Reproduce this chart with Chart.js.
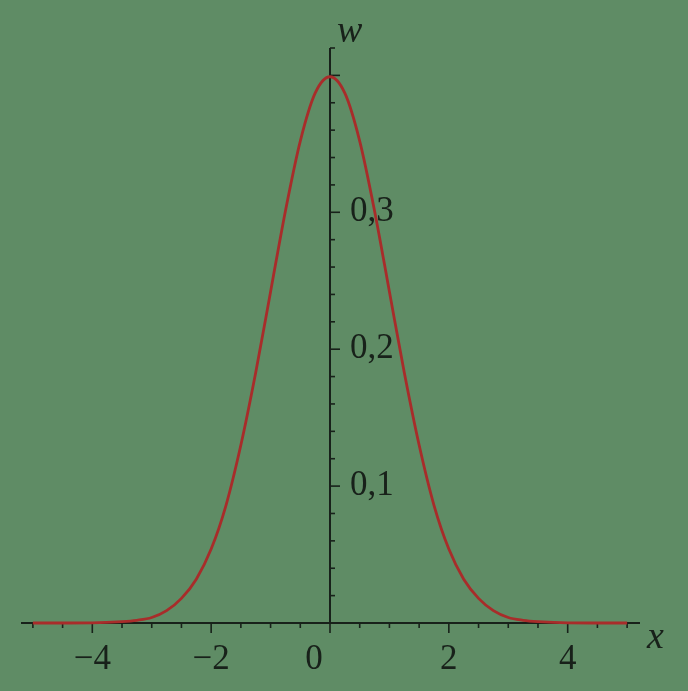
<!DOCTYPE html>
<html>
<head>
<meta charset="utf-8">
<script src="https://cdn.jsdelivr.net/npm/chart.js@4"></script>
<style>
  html, body { margin: 0; padding: 0; background: #5f8c65; }
  #wrap { width: 688px; height: 691px; }
</style>
</head>
<body>
<div id="wrap"><canvas id="chart" width="688" height="691"></canvas></div>
<script>
// curve values
const xValues = [-5, -4.5, -4, -3.5, -3.25, -3, -2.75, -2.5, -2.25, -2, -1.75, -1.5, -1.25, -1, -0.75, -0.5, -0.25,
                 0, 0.25, 0.5, 0.75, 1, 1.25, 1.5, 1.75, 2, 2.25, 2.5, 2.75, 3, 3.25, 3.5, 4, 4.5, 5];
const wValues = [0, 0, 0.0001, 0.001, 0.002, 0.004, 0.009, 0.018, 0.032, 0.054, 0.086, 0.130, 0.183, 0.242, 0.301, 0.352, 0.387,
                 0.399, 0.387, 0.352, 0.301, 0.242, 0.183, 0.130, 0.086, 0.054, 0.032, 0.018, 0.009, 0.004, 0.002, 0.001, 0.0001, 0, 0];

// axis ticks and labels
const xLabelTicks = [-4, -2, 2, 4];
const xLabels = ['\u22124', '\u22122', '2', '4'];
const yLabelTicks = [0.1, 0.2, 0.3];
const yLabels = ['0,1', '0,2', '0,3'];

const axisColor = '#18211a';
const labelFont = '35px "Liberation Serif", serif';

const axesPlugin = {
    id: 'texAxes',
    beforeDatasetsDraw(chart) {
        const ctx = chart.ctx;
        const xs = chart.scales.x, ys = chart.scales.y;
        const x0 = xs.getPixelForValue(0), y0 = ys.getPixelForValue(0);
        ctx.save();
        ctx.strokeStyle = axisColor;
        ctx.lineWidth = 2;
        // x axis
        ctx.beginPath();
        ctx.moveTo(xs.left, y0);
        ctx.lineTo(xs.right + 1, y0);
        ctx.stroke();
        // y axis
        ctx.beginPath();
        ctx.moveTo(x0, y0);
        ctx.lineTo(x0, ys.top);
        ctx.stroke();
        ctx.lineWidth = 1.6;
        // x ticks every 0.5, longer on even numbers
        for (let i = -10; i <= 10; i++) {
            const px = xs.getPixelForValue(i / 2);
            const len = (i % 4 === 0) ? 10 : 5;
            ctx.beginPath();
            ctx.moveTo(px, y0);
            ctx.lineTo(px, y0 + len);
            ctx.stroke();
        }
        // y ticks every 0.02, longer on 0.1 steps
        for (let j = 1; j <= 21; j++) {
            const py = ys.getPixelForValue(j * 0.02);
            const len = (j % 5 === 0) ? 10 : 5;
            ctx.beginPath();
            ctx.moveTo(x0, py);
            ctx.lineTo(x0 + len, py);
            ctx.stroke();
        }
        // labels
        ctx.fillStyle = axisColor;
        ctx.font = labelFont;
        ctx.textBaseline = 'alphabetic';
        ctx.textAlign = 'center';
        xLabelTicks.forEach((v, k) => {
            ctx.fillText(xLabels[k], xs.getPixelForValue(v), y0 + 46);
        });
        ctx.fillText('0', x0 - 16, y0 + 46);
        ctx.textAlign = 'left';
        yLabelTicks.forEach((v, k) => {
            ctx.fillText(yLabels[k], x0 + 20, ys.getPixelForValue(v) + 9);
        });
        ctx.font = 'italic 38px "Liberation Serif", serif';
        ctx.fillText('w', x0 + 7, ys.top - 6);
        ctx.fillText('x', xs.right + 8, y0 + 25);
        ctx.restore();
    }
};

new Chart(document.getElementById('chart'), {
    type: 'line',
    data: {
        datasets: [{
            data: xValues.map((x, i) => ({ x: x, y: wValues[i] })),
            borderColor: '#a82c2a',
            borderWidth: 2.8,
            pointRadius: 0,
            fill: false,
            cubicInterpolationMode: 'monotone',
            clip: false
        }]
    },
    options: {
        responsive: false,
        animation: false,
        layout: { padding: { left: 21, right: 49, top: 48, bottom: 68 } },
        plugins: { legend: { display: false }, tooltip: { enabled: false } },
        scales: {
            x: { type: 'linear', min: -5.2, max: 5.2, display: false },
            y: { type: 'linear', min: 0, max: 0.42, display: false }
        }
    },
    plugins: [axesPlugin]
});
</script>
</body>
</html>
